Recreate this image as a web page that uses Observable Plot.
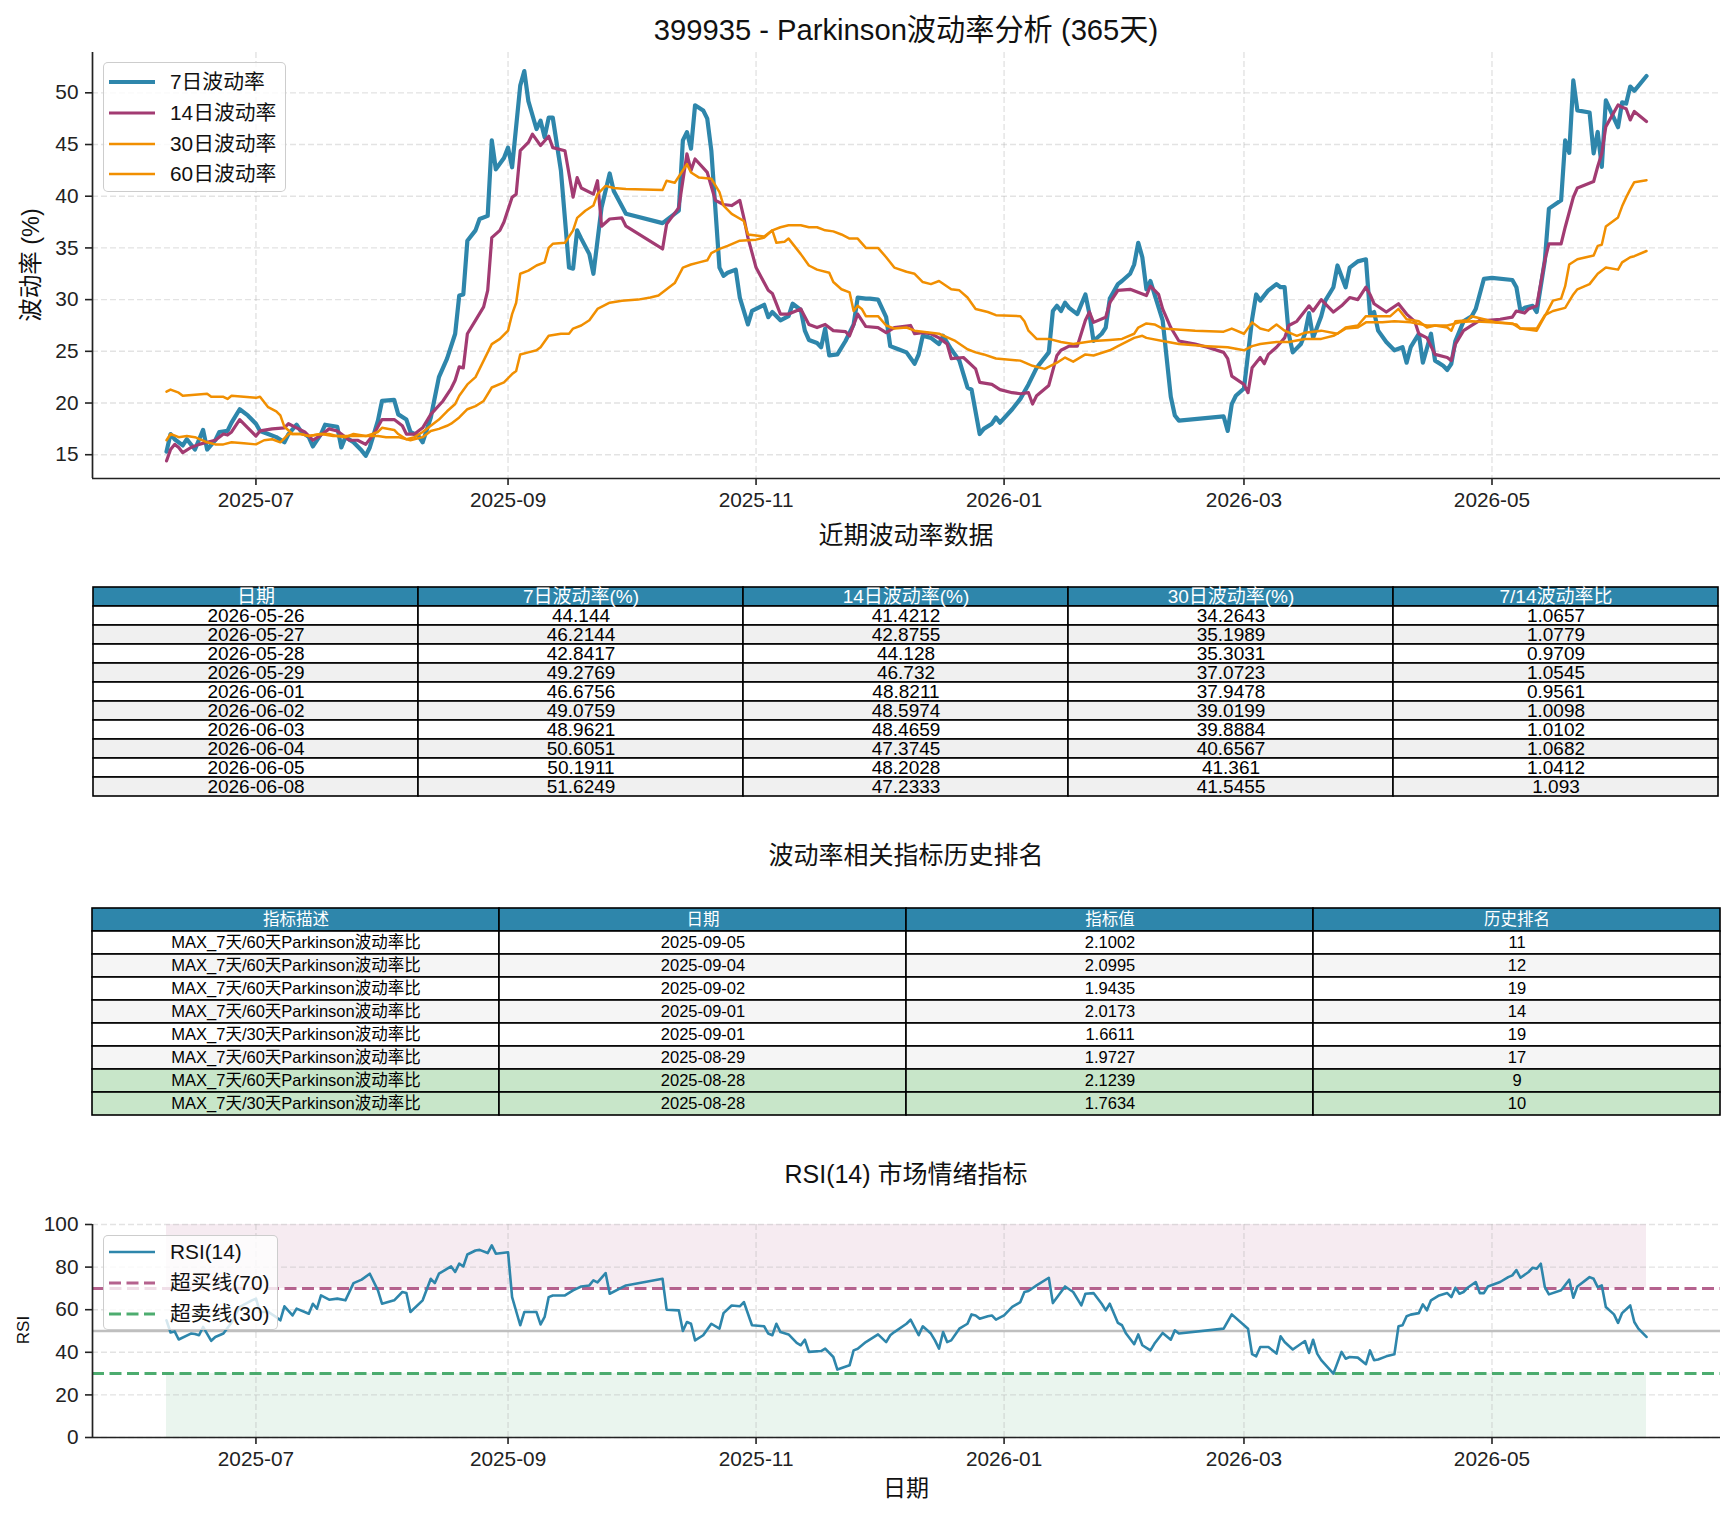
<!DOCTYPE html>
<html>
<head>
<meta charset="utf-8">
<script src="https://cdn.jsdelivr.net/npm/d3@7"></script>
<script src="https://cdn.jsdelivr.net/npm/@observablehq/plot@0.6"></script>
<style>
  body { margin: 0; background: #fff; }
  #root { position: relative; width: 1734px; height: 1516px; overflow: hidden; background: #fff;
          font-family: "Liberation Sans", "Noto Sans CJK SC", sans-serif; color: #111; }
</style>
</head>
<body>
<div id="root"></div>
<script>
// ---------------- DATA ----------------
const vol7 = [["2025-06-09",15.3],["2025-06-10",17.0],["2025-06-11",16.5],["2025-06-13",15.9],["2025-06-14",16.5],["2025-06-16",15.5],["2025-06-18",17.4],["2025-06-19",15.5],["2025-06-21",16.4],["2025-06-22",17.2],["2025-06-24",17.3],["2025-06-25",18.1],["2025-06-27",19.4],["2025-06-29",18.8],["2025-07-01",18.0],["2025-07-02",17.3],["2025-07-04",17.0],["2025-07-06",16.7],["2025-07-08",16.2],["2025-07-09",17.0],["2025-07-11",17.9],["2025-07-12",17.3],["2025-07-14",16.7],["2025-07-15",15.8],["2025-07-17",17.0],["2025-07-18",17.9],["2025-07-21",17.7],["2025-07-22",15.7],["2025-07-23",16.7],["2025-07-25",16.2],["2025-07-27",15.4],["2025-07-28",14.9],["2025-07-29",15.7],["2025-07-31",18.3],["2025-08-01",20.2],["2025-08-04",20.3],["2025-08-05",18.9],["2025-08-07",18.4],["2025-08-08",17.2],["2025-08-10",16.8],["2025-08-11",16.2],["2025-08-13",18.6],["2025-08-15",22.5],["2025-08-17",24.3],["2025-08-19",26.7],["2025-08-20",30.4],["2025-08-21",30.5],["2025-08-22",35.7],["2025-08-24",36.7],["2025-08-25",37.8],["2025-08-27",38.1],["2025-08-28",45.4],["2025-08-29",42.6],["2025-08-31",43.7],["2025-09-01",44.7],["2025-09-02",42.8],["2025-09-04",50.7],["2025-09-05",52.1],["2025-09-06",49.2],["2025-09-08",46.5],["2025-09-09",47.3],["2025-09-10",45.7],["2025-09-11",47.6],["2025-09-12",47.6],["2025-09-14",42.5],["2025-09-16",33.1],["2025-09-17",33.0],["2025-09-18",36.7],["2025-09-19",35.9],["2025-09-21",34.4],["2025-09-22",32.5],["2025-09-24",38.9],["2025-09-26",42.2],["2025-09-27",40.5],["2025-09-30",38.3],["2025-10-09",37.4],["2025-10-13",38.6],["2025-10-14",45.4],["2025-10-15",46.2],["2025-10-16",44.6],["2025-10-17",48.8],["2025-10-19",48.3],["2025-10-20",47.5],["2025-10-21",44.4],["2025-10-23",33.1],["2025-10-24",32.3],["2025-10-25",32.6],["2025-10-27",32.9],["2025-10-28",30.2],["2025-10-30",27.6],["2025-10-31",28.9],["2025-11-03",29.5],["2025-11-04",28.3],["2025-11-05",28.8],["2025-11-07",28.0],["2025-11-09",28.4],["2025-11-10",29.6],["2025-11-12",29.0],["2025-11-13",27.0],["2025-11-14",26.1],["2025-11-16",25.8],["2025-11-17",25.4],["2025-11-18",27.2],["2025-11-19",24.6],["2025-11-21",24.7],["2025-11-23",26.0],["2025-11-25",27.6],["2025-11-26",30.2],["2025-11-28",30.1],["2025-11-29",30.1],["2025-12-01",30.0],["2025-12-03",28.3],["2025-12-04",25.5],["2025-12-06",25.2],["2025-12-08",24.9],["2025-12-10",23.8],["2025-12-11",24.7],["2025-12-12",26.5],["2025-12-14",26.3],["2025-12-16",25.7],["2025-12-17",26.5],["2025-12-19",25.2],["2025-12-21",24.1],["2025-12-23",21.5],["2025-12-24",21.3],["2025-12-26",17.0],["2025-12-27",17.5],["2025-12-29",18.0],["2025-12-30",18.6],["2025-12-31",18.1],["2026-01-03",19.4],["2026-01-05",20.4],["2026-01-07",21.8],["2026-01-09",23.4],["2026-01-12",24.9],["2026-01-13",28.9],["2026-01-14",29.4],["2026-01-15",28.9],["2026-01-16",29.7],["2026-01-17",29.2],["2026-01-19",28.6],["2026-01-21",30.5],["2026-01-22",28.6],["2026-01-23",26.0],["2026-01-25",26.7],["2026-01-26",27.3],["2026-01-27",30.1],["2026-01-29",31.5],["2026-01-30",31.8],["2026-02-01",32.5],["2026-02-02",33.4],["2026-02-03",35.5],["2026-02-04",34.1],["2026-02-05",31.0],["2026-02-06",31.8],["2026-02-07",30.5],["2026-02-09",28.0],["2026-02-11",20.6],["2026-02-12",18.8],["2026-02-13",18.3],["2026-02-24",18.7],["2026-02-25",17.3],["2026-02-26",19.9],["2026-02-27",20.7],["2026-03-01",21.4],["2026-03-03",28.1],["2026-03-04",30.5],["2026-03-05",29.9],["2026-03-07",30.9],["2026-03-09",31.5],["2026-03-10",31.2],["2026-03-11",31.2],["2026-03-12",26.7],["2026-03-13",24.9],["2026-03-15",25.7],["2026-03-16",26.7],["2026-03-17",28.7],["2026-03-18",26.3],["2026-03-20",28.4],["2026-03-21",29.9],["2026-03-23",31.2],["2026-03-24",33.3],["2026-03-26",31.2],["2026-03-27",33.1],["2026-03-29",33.7],["2026-03-31",33.9],["2026-04-01",28.6],["2026-04-02",28.8],["2026-04-03",27.0],["2026-04-05",25.9],["2026-04-07",25.1],["2026-04-09",25.4],["2026-04-10",23.9],["2026-04-11",25.4],["2026-04-13",26.7],["2026-04-14",23.9],["2026-04-16",26.7],["2026-04-17",24.1],["2026-04-19",23.6],["2026-04-20",23.2],["2026-04-21",23.8],["2026-04-22",26.0],["2026-04-24",27.9],["2026-04-26",28.4],["2026-04-27",29.1],["2026-04-29",32.0],["2026-05-01",32.1],["2026-05-06",31.9],["2026-05-07",31.2],["2026-05-08",28.9],["2026-05-09",29.2],["2026-05-11",29.4],["2026-05-12",28.8],["2026-05-14",33.8],["2026-05-15",38.8],["2026-05-18",39.6],["2026-05-19",45.4],["2026-05-20",44.2],["2026-05-21",51.2],["2026-05-22",48.3],["2026-05-25",48.1]];

const vol14 = [["2025-06-09",14.4],["2025-06-10",15.5],["2025-06-11",16.0],["2025-06-12",15.7],["2025-06-13",15.2],["2025-06-15",15.7],["2025-06-17",16.0],["2025-06-19",16.2],["2025-06-21",16.4],["2025-06-23",17.0],["2025-06-24",16.9],["2025-06-25",17.2],["2025-06-27",18.4],["2025-06-29",17.6],["2025-07-01",16.8],["2025-07-02",17.3],["2025-07-05",17.5],["2025-07-08",17.6],["2025-07-09",18.0],["2025-07-11",17.6],["2025-07-13",17.2],["2025-07-15",16.4],["2025-07-17",16.9],["2025-07-19",17.5],["2025-07-21",17.3],["2025-07-22",17.0],["2025-07-24",16.4],["2025-07-26",16.4],["2025-07-28",16.0],["2025-07-30",17.0],["2025-08-01",18.4],["2025-08-04",18.4],["2025-08-06",17.8],["2025-08-07",17.0],["2025-08-09",17.0],["2025-08-11",17.6],["2025-08-13",18.9],["2025-08-16",20.2],["2025-08-18",21.4],["2025-08-19",22.2],["2025-08-20",23.5],["2025-08-21",23.4],["2025-08-22",26.7],["2025-08-24",28.0],["2025-08-26",29.3],["2025-08-27",30.9],["2025-08-28",36.0],["2025-08-30",36.7],["2025-08-31",37.5],["2025-09-02",39.9],["2025-09-03",40.2],["2025-09-04",44.4],["2025-09-06",45.2],["2025-09-07",46.0],["2025-09-09",44.9],["2025-09-11",45.8],["2025-09-12",44.7],["2025-09-15",44.4],["2025-09-17",39.9],["2025-09-18",41.8],["2025-09-19",40.8],["2025-09-22",40.2],["2025-09-23",41.5],["2025-09-24",37.1],["2025-09-26",37.8],["2025-09-29",37.9],["2025-09-30",37.1],["2025-10-09",34.9],["2025-10-10",37.3],["2025-10-13",38.9],["2025-10-15",44.1],["2025-10-16",42.5],["2025-10-17",43.6],["2025-10-20",42.3],["2025-10-22",39.6],["2025-10-24",39.2],["2025-10-26",39.1],["2025-10-28",39.6],["2025-10-29",37.9],["2025-10-30",36.0],["2025-11-01",33.1],["2025-11-04",30.9],["2025-11-05",30.6],["2025-11-07",28.6],["2025-11-09",28.6],["2025-11-12",29.1],["2025-11-14",27.6],["2025-11-16",27.3],["2025-11-18",27.6],["2025-11-20",27.0],["2025-11-23",26.9],["2025-11-24",26.5],["2025-11-26",28.6],["2025-11-28",27.4],["2025-12-01",27.3],["2025-12-03",26.8],["2025-12-05",27.3],["2025-12-09",27.5],["2025-12-10",26.7],["2025-12-12",26.8],["2025-12-14",26.7],["2025-12-16",26.3],["2025-12-18",25.7],["2025-12-19",24.3],["2025-12-22",24.4],["2025-12-25",23.3],["2025-12-26",22.0],["2025-12-29",21.8],["2025-12-31",21.3],["2026-01-03",21.0],["2026-01-05",20.9],["2026-01-07",21.0],["2026-01-08",19.9],["2026-01-09",20.7],["2026-01-12",21.7],["2026-01-14",24.6],["2026-01-15",25.1],["2026-01-17",25.5],["2026-01-19",25.5],["2026-01-21",28.0],["2026-01-22",28.8],["2026-01-23",27.8],["2026-01-26",28.3],["2026-01-27",29.7],["2026-01-29",30.9],["2026-02-01",31.0],["2026-02-05",30.4],["2026-02-06",31.3],["2026-02-08",30.5],["2026-02-09",29.1],["2026-02-11",27.3],["2026-02-13",26.0],["2026-02-17",25.7],["2026-02-20",25.4],["2026-02-24",24.9],["2026-02-25",24.3],["2026-02-26",22.6],["2026-03-01",21.8],["2026-03-02",21.0],["2026-03-03",23.4],["2026-03-05",24.4],["2026-03-06",23.8],["2026-03-07",24.7],["2026-03-09",25.4],["2026-03-11",26.3],["2026-03-12",27.5],["2026-03-14",27.9],["2026-03-17",29.4],["2026-03-18",28.9],["2026-03-20",30.0],["2026-03-23",28.8],["2026-03-25",29.4],["2026-03-27",30.2],["2026-03-29",30.0],["2026-03-31",31.2],["2026-04-01",30.5],["2026-04-02",29.6],["2026-04-05",28.8],["2026-04-08",29.6],["2026-04-10",28.6],["2026-04-12",27.9],["2026-04-13",26.7],["2026-04-15",26.3],["2026-04-17",24.7],["2026-04-20",24.4],["2026-04-21",24.1],["2026-04-22",25.7],["2026-04-24",27.0],["2026-04-26",27.5],["2026-04-28",28.0],["2026-04-30",28.0],["2026-05-03",28.1],["2026-05-06",28.3],["2026-05-07",28.9],["2026-05-09",28.7],["2026-05-10",29.1],["2026-05-12",29.4],["2026-05-14",33.8],["2026-05-15",35.4],["2026-05-18",35.4],["2026-05-19",37.0],["2026-05-21",39.9],["2026-05-22",40.8]];

const vol30 = [["2025-06-09",21.1],["2025-06-10",21.3],["2025-06-12",21.0],["2025-06-13",20.7],["2025-06-16",20.8],["2025-06-19",20.9],["2025-06-20",20.6],["2025-06-23",20.6],["2025-06-24",20.4],["2025-06-25",20.7],["2025-06-28",20.6],["2025-07-01",20.5],["2025-07-02",20.6],["2025-07-04",19.6],["2025-07-06",19.2],["2025-07-07",18.8],["2025-07-08",17.7],["2025-07-10",17.0],["2025-07-12",17.0],["2025-07-14",16.8],["2025-07-17",17.0],["2025-07-19",17.0],["2025-07-21",16.8],["2025-07-23",16.7],["2025-07-25",17.0],["2025-07-28",16.8],["2025-07-31",17.2],["2025-08-01",17.6],["2025-08-04",17.4],["2025-08-05",17.0],["2025-08-07",16.5],["2025-08-09",16.7],["2025-08-11",17.2],["2025-08-13",17.8],["2025-08-15",18.4],["2025-08-17",19.2],["2025-08-19",19.9],["2025-08-20",20.7],["2025-08-22",21.8],["2025-08-24",22.5],["2025-08-25",23.3],["2025-08-28",25.7],["2025-08-30",26.2],["2025-09-01",27.0],["2025-09-02",28.6],["2025-09-03",29.7],["2025-09-04",32.5],["2025-09-06",32.8],["2025-09-08",33.3],["2025-09-10",33.6],["2025-09-11",35.0],["2025-09-12",35.4],["2025-09-15",35.5],["2025-09-17",36.7],["2025-09-18",37.9],["2025-09-20",38.6],["2025-09-22",39.1],["2025-09-23",40.2],["2025-09-25",41.0],["2025-09-27",40.8],["2025-09-30",40.7],["2025-10-09",40.6],["2025-10-10",41.5],["2025-10-12",41.3],["2025-10-15",43.1],["2025-10-16",42.3],["2025-10-18",41.8],["2025-10-21",41.7],["2025-10-23",40.4],["2025-10-24",39.1],["2025-10-26",38.3],["2025-10-29",37.6],["2025-10-30",36.3],["2025-11-01",36.2],["2025-11-03",36.1],["2025-11-05",36.7],["2025-11-06",35.5],["2025-11-08",35.6],["2025-11-09",35.9],["2025-11-12",34.4],["2025-11-14",33.3],["2025-11-16",32.9],["2025-11-19",32.6],["2025-11-20",31.7],["2025-11-22",31.0],["2025-11-24",30.7],["2025-11-25",28.9],["2025-11-26",29.4],["2025-11-27",29.1],["2025-11-28",28.4],["2025-12-01",28.4],["2025-12-03",27.5],["2025-12-05",27.2],["2025-12-08",27.3],["2025-12-10",27.0],["2025-12-16",26.7],["2025-12-20",26.0],["2025-12-23",25.2],["2025-12-25",24.9],["2025-12-27",24.7],["2025-12-30",24.3],["2026-01-05",24.1],["2026-01-08",23.6],["2026-01-11",23.3],["2026-01-14",23.9],["2026-01-16",24.4],["2026-01-18",24.0],["2026-01-21",24.7],["2026-01-23",24.6],["2026-01-27",25.1],["2026-01-29",25.5],["2026-02-02",26.3],["2026-02-04",26.5],["2026-02-05",26.3],["2026-02-09",26.0],["2026-02-13",25.7],["2026-02-20",25.5],["2026-02-25",25.4],["2026-03-01",25.1],["2026-03-03",25.5],["2026-03-05",25.7],["2026-03-09",25.9],["2026-03-12",25.9],["2026-03-16",26.2],["2026-03-20",26.2],["2026-03-23",26.5],["2026-03-26",27.2],["2026-03-29",27.3],["2026-03-31",27.8],["2026-04-04",27.8],["2026-04-07",27.9],["2026-04-11",27.8],["2026-04-15",27.5],["2026-04-20",27.5],["2026-04-23",27.8],["2026-04-26",27.9],["2026-05-01",27.8],["2026-05-05",27.7],["2026-05-07",27.6],["2026-05-08",27.2],["2026-05-12",27.0],["2026-05-14",28.4],["2026-05-16",29.9],["2026-05-18",30.1],["2026-05-19",31.3],["2026-05-20",33.4],["2026-05-22",33.9]];

const vol60 = [["2025-06-09",16.4],["2025-06-10",17.0],["2025-06-12",16.7],["2025-06-14",16.8],["2025-06-16",16.7],["2025-06-19",16.2],["2025-06-21",16.0],["2025-06-23",16.0],["2025-06-25",16.2],["2025-06-28",16.1],["2025-07-01",16.0],["2025-07-03",16.4],["2025-07-05",16.5],["2025-07-07",16.2],["2025-07-09",17.0],["2025-07-12",17.0],["2025-07-14",16.8],["2025-07-17",17.0],["2025-07-20",16.8],["2025-07-23",16.8],["2025-07-27",16.8],["2025-07-31",16.8],["2025-08-02",16.7],["2025-08-05",16.7],["2025-08-08",16.4],["2025-08-11",16.7],["2025-08-13",17.3],["2025-08-15",17.5],["2025-08-17",17.8],["2025-08-18",18.0],["2025-08-20",18.6],["2025-08-22",19.4],["2025-08-24",19.7],["2025-08-26",20.2],["2025-08-28",21.5],["2025-08-31",22.0],["2025-09-02",22.8],["2025-09-03",23.1],["2025-09-04",24.7],["2025-09-06",24.9],["2025-09-08",25.1],["2025-09-09",25.4],["2025-09-11",26.5],["2025-09-14",26.7],["2025-09-16",26.7],["2025-09-17",27.2],["2025-09-19",27.5],["2025-09-21",28.0],["2025-09-23",29.1],["2025-09-26",29.7],["2025-09-29",29.9],["2025-10-03",30.0],["2025-10-06",30.2],["2025-10-08",30.4],["2025-10-10",31.0],["2025-10-12",31.6],["2025-10-14",33.1],["2025-10-16",33.4],["2025-10-18",33.6],["2025-10-20",33.8],["2025-10-21",34.5],["2025-10-23",34.9],["2025-10-25",35.2],["2025-10-28",35.7],["2025-11-01",35.8],["2025-11-03",36.0],["2025-11-05",36.7],["2025-11-07",37.0],["2025-11-09",37.2],["2025-11-12",37.2],["2025-11-14",37.0],["2025-11-16",37.0],["2025-11-18",36.7],["2025-11-20",36.6],["2025-11-22",36.3],["2025-11-24",35.9],["2025-11-26",35.9],["2025-11-28",35.0],["2025-12-01",35.0],["2025-12-03",34.1],["2025-12-05",33.1],["2025-12-08",32.7],["2025-12-10",32.5],["2025-12-12",31.7],["2025-12-14",31.5],["2025-12-16",31.8],["2025-12-19",31.0],["2025-12-21",30.9],["2025-12-23",30.2],["2025-12-25",29.1],["2025-12-28",28.8],["2025-12-30",28.5],["2026-01-05",28.4],["2026-01-06",27.9],["2026-01-07",27.0],["2026-01-09",26.2],["2026-01-12",26.2],["2026-01-15",25.9],["2026-01-18",25.7],["2026-01-23",26.0],["2026-01-27",26.1],["2026-01-30",26.2],["2026-02-02",26.7],["2026-02-03",27.3],["2026-02-05",27.7],["2026-02-07",27.6],["2026-02-09",27.2],["2026-02-17",27.0],["2026-02-24",26.9],["2026-02-26",27.2],["2026-03-01",26.7],["2026-03-03",27.8],["2026-03-05",27.2],["2026-03-07",27.0],["2026-03-09",27.6],["2026-03-11",27.0],["2026-03-14",26.5],["2026-03-16",26.8],["2026-03-20",27.0],["2026-03-24",26.7],["2026-03-26",27.3],["2026-03-29",27.5],["2026-03-31",28.4],["2026-04-06",28.4],["2026-04-08",29.1],["2026-04-10",28.1],["2026-04-13",27.9],["2026-04-15",27.3],["2026-04-17",27.5],["2026-04-20",27.3],["2026-04-21",27.0],["2026-04-22",27.9],["2026-04-25",28.0],["2026-04-26",28.4],["2026-04-29",28.1],["2026-05-02",27.8],["2026-05-06",27.7],["2026-05-08",27.2],["2026-05-12",27.2],["2026-05-14",28.5],["2026-05-16",28.9],["2026-05-19",29.2],["2026-05-21",30.5],["2026-05-22",31.0],["2026-05-25",31.5],["2026-05-27",32.5],["2026-05-29",33.1],["2026-06-01",32.9],["2026-06-02",33.6],["2026-06-04",34.1],["2026-06-05",34.2],["2026-06-08",34.7]];

const rsi14 = [["2025-06-09",55.0],["2025-06-10",49.3],["2025-06-11",49.8],["2025-06-12",46.0],["2025-06-15",48.8],["2025-06-16",48.6],["2025-06-17",48.0],["2025-06-18",51.9],["2025-06-20",45.4],["2025-06-21",47.2],["2025-06-23",48.8],["2025-06-25",54.0],["2025-06-27",61.3],["2025-06-30",64.4],["2025-07-01",65.2],["2025-07-02",58.9],["2025-07-04",59.0],["2025-07-06",56.5],["2025-07-07",55.0],["2025-07-08",61.6],["2025-07-10",57.3],["2025-07-11",60.5],["2025-07-14",58.1],["2025-07-15",62.8],["2025-07-16",60.5],["2025-07-17",66.7],["2025-07-19",64.7],["2025-07-21",65.2],["2025-07-23",64.4],["2025-07-25",72.5],["2025-07-27",74.1],["2025-07-29",76.9],["2025-07-31",69.1],["2025-08-01",62.8],["2025-08-04",64.4],["2025-08-06",68.3],["2025-08-07",67.8],["2025-08-08",58.9],["2025-08-11",64.4],["2025-08-13",74.5],["2025-08-14",72.5],["2025-08-15",76.9],["2025-08-18",80.3],["2025-08-19",77.7],["2025-08-20",81.6],["2025-08-21",80.3],["2025-08-22",85.9],["2025-08-24",87.8],["2025-08-25",88.1],["2025-08-27",86.6],["2025-08-28",90.2],["2025-08-29",86.3],["2025-09-01",87.0],["2025-09-02",65.9],["2025-09-04",52.7],["2025-09-05",58.9],["2025-09-08",58.9],["2025-09-09",53.1],["2025-09-10",56.6],["2025-09-11",65.9],["2025-09-12",66.7],["2025-09-15",66.7],["2025-09-17",69.1],["2025-09-19",70.9],["2025-09-21",71.4],["2025-09-22",73.8],["2025-09-23",72.8],["2025-09-25",77.2],["2025-09-26",67.5],["2025-09-30",71.4],["2025-10-09",74.5],["2025-10-10",60.0],["2025-10-13",59.7],["2025-10-14",50.0],["2025-10-15",54.2],["2025-10-16",53.4],["2025-10-17",45.6],["2025-10-19",48.0],["2025-10-21",53.4],["2025-10-23",51.1],["2025-10-24",58.4],["2025-10-26",62.0],["2025-10-28",61.6],["2025-10-29",63.6],["2025-10-31",52.7],["2025-11-03",52.2],["2025-11-04",48.8],["2025-11-05",48.0],["2025-11-06",53.4],["2025-11-07",49.5],["2025-11-09",48.4],["2025-11-11",44.4],["2025-11-12",43.3],["2025-11-13",45.9],["2025-11-14",40.2],["2025-11-17",40.6],["2025-11-18",41.7],["2025-11-20",37.8],["2025-11-21",31.9],["2025-11-24",33.9],["2025-11-25",40.9],["2025-11-26",41.7],["2025-11-28",44.8],["2025-12-01",48.4],["2025-12-03",44.8],["2025-12-04",48.0],["2025-12-05",49.5],["2025-12-08",53.4],["2025-12-09",55.3],["2025-12-11",48.0],["2025-12-12",52.2],["2025-12-14",48.8],["2025-12-15",45.6],["2025-12-16",41.7],["2025-12-17",49.5],["2025-12-18",44.8],["2025-12-19",45.6],["2025-12-21",51.1],["2025-12-23",53.4],["2025-12-24",57.8],["2025-12-25",57.3],["2025-12-26",55.8],["2025-12-28",56.9],["2025-12-29",57.3],["2025-12-30",55.3],["2026-01-01",57.3],["2026-01-03",61.3],["2026-01-05",63.6],["2026-01-06",68.3],["2026-01-07",68.8],["2026-01-09",71.4],["2026-01-12",75.0],["2026-01-13",63.1],["2026-01-15",68.3],["2026-01-16",70.9],["2026-01-18",68.3],["2026-01-20",62.0],["2026-01-21",67.5],["2026-01-23",67.8],["2026-01-25",62.8],["2026-01-26",59.7],["2026-01-27",62.8],["2026-01-29",53.8],["2026-01-30",52.7],["2026-01-31",48.8],["2026-02-02",43.8],["2026-02-03",48.4],["2026-02-04",43.3],["2026-02-06",40.9],["2026-02-07",44.1],["2026-02-09",49.1],["2026-02-11",45.9],["2026-02-12",50.3],["2026-02-13",48.8],["2026-02-24",51.1],["2026-02-26",57.8],["2026-03-02",51.1],["2026-03-03",39.1],["2026-03-04",38.1],["2026-03-05",42.5],["2026-03-07",42.5],["2026-03-09",39.4],["2026-03-10",47.5],["2026-03-11",44.8],["2026-03-13",41.3],["2026-03-16",45.3],["2026-03-17",39.7],["2026-03-18",45.9],["2026-03-19",39.4],["2026-03-20",36.3],["2026-03-23",30.0],["2026-03-25",40.2],["2026-03-26",37.0],["2026-03-27",37.8],["2026-03-29",37.5],["2026-03-31",34.4],["2026-04-01",40.9],["2026-04-02",36.3],["2026-04-03",36.6],["2026-04-05",38.1],["2026-04-07",39.1],["2026-04-08",52.2],["2026-04-09",52.7],["2026-04-10",56.9],["2026-04-11",57.7],["2026-04-13",58.4],["2026-04-14",62.5],["2026-04-15",59.7],["2026-04-16",64.4],["2026-04-18",66.7],["2026-04-20",67.8],["2026-04-21",65.9],["2026-04-22",70.3],["2026-04-23",67.5],["2026-04-24",68.3],["2026-04-25",70.3],["2026-04-27",73.0],["2026-04-28",67.8],["2026-04-29",67.8],["2026-04-30",70.9],["2026-05-03",73.0],["2026-05-05",75.3],["2026-05-06",76.1],["2026-05-07",78.6],["2026-05-08",75.0],["2026-05-10",77.7],["2026-05-11",79.7],["2026-05-12",79.2],["2026-05-13",81.6],["2026-05-14",70.6],["2026-05-15",67.2],["2026-05-18",69.1],["2026-05-20",74.1],["2026-05-21",65.6],["2026-05-22",70.9],["2026-05-25",75.3],["2026-05-26",74.5],["2026-05-27",70.6],["2026-05-28",71.4],["2026-05-29",61.3],["2026-05-31",57.8],["2026-06-01",53.8],["2026-06-02",58.4],["2026-06-04",62.0],["2026-06-05",54.2],["2026-06-06",51.1],["2026-06-08",47.2]];

// recent table (also the last ten points of the 7/14/30 day lines)
const recentDates = ["2026-05-26","2026-05-27","2026-05-28","2026-05-29","2026-06-01","2026-06-02","2026-06-03","2026-06-04","2026-06-05","2026-06-08"];
const recent7  = [44.144, 46.2144, 42.8417, 49.2769, 46.6756, 49.0759, 48.9621, 50.6051, 50.1911, 51.6249];
const recent14 = [41.4212, 42.8755, 44.128, 46.732, 48.8211, 48.5974, 48.4659, 47.3745, 48.2028, 47.2333];
const recent30 = [34.2643, 35.1989, 35.3031, 37.0723, 37.9478, 39.0199, 39.8884, 40.6567, 41.361, 41.5455];
const recentRatio = [1.0657, 1.0779, 0.9709, 1.0545, 0.9561, 1.0098, 1.0102, 1.0682, 1.0412, 1.093];
const recentCols = ["日期", "7日波动率(%)", "14日波动率(%)", "30日波动率(%)", "7/14波动率比"];

// ranking table
const rankCols = ["指标描述", "日期", "指标值", "历史排名"];
const rankDesc = ["MAX_7天/60天Parkinson波动率比","MAX_7天/60天Parkinson波动率比","MAX_7天/60天Parkinson波动率比","MAX_7天/60天Parkinson波动率比","MAX_7天/30天Parkinson波动率比","MAX_7天/60天Parkinson波动率比","MAX_7天/60天Parkinson波动率比","MAX_7天/30天Parkinson波动率比"];
const rankDate = ["2025-09-05","2025-09-04","2025-09-02","2025-09-01","2025-09-01","2025-08-29","2025-08-28","2025-08-28"];
const rankValue = [2.1002, 2.0995, 1.9435, 2.0173, 1.6611, 1.9727, 2.1239, 1.7634];
const rankPos = [11, 12, 19, 14, 19, 17, 9, 10];

const monthTicks = ["2025-07-01","2025-09-01","2025-11-01","2026-01-01","2026-03-01","2026-05-01"];
const volTicks = [15, 20, 25, 30, 35, 40, 45, 50];
const rsiTicks = [0, 20, 40, 60, 80, 100];
const rsiLevels = {overbought: 70, oversold: 30, mid: 50};

// ---------------- STYLE ----------------
const FONT = '"Liberation Sans", "Noto Sans CJK SC", sans-serif';
const C7 = "#2E86AB", C14 = "#A23B72", C30 = "#F18F01", C60 = "#F18F01";
const GREEN = "#3aa35f";
const TICK = "#222";

const parse = d3.utcParse("%Y-%m-%d");
const pts = arr => arr.map(([d, v]) => ({date: parse(d), v}));
const s7 = pts([...vol7, ...recentDates.map((d, i) => [d, recent7[i]])]);
const s14 = pts([...vol14, ...recentDates.map((d, i) => [d, recent14[i]])]);
const s30 = pts([...vol30, ...recentDates.map((d, i) => [d, recent30[i]])]);
const s60 = pts(vol60);
const sR = pts(rsi14);
const xTicks = monthTicks.map(parse);

const [t0, t1] = d3.extent(s7, d => d.date);
const pad = (t1 - t0) * 0.05;
const xDomain = [new Date(+t0 - pad), new Date(+t1 + pad)];
const yDomain = [12.7, 53.9];

const root = document.getElementById("root");
function place(node, top) {
  node.style.position = "absolute"; node.style.left = "0px"; node.style.top = top + "px";
  root.appendChild(node);
}
function addText(txt, cx, cy, size, rotate, color) {
  const el = document.createElement("div");
  el.textContent = txt;
  el.style.cssText = `position:absolute;left:${cx}px;top:${cy}px;font-size:${size}px;line-height:1;white-space:nowrap;color:${color || "#111"};transform:translate(-50%,-50%)${rotate ? ` rotate(${rotate}deg)` : ""};`;
  root.appendChild(el);
}
function legend(items, left, top, width, height, rows) {
  const box = document.createElement("div");
  box.style.cssText = `position:absolute;left:${left}px;top:${top}px;width:${width}px;height:${height}px;border:1.3px solid rgba(200,200,200,0.9);border-radius:5px;background:rgba(255,255,255,0.8);box-sizing:border-box;`;
  const ns = "http://www.w3.org/2000/svg";
  items.forEach((it, i) => {
    const y = rows[i];
    const s = document.createElementNS(ns, "svg");
    s.setAttribute("width", 54); s.setAttribute("height", 14);
    s.style.cssText = `position:absolute;left:3px;top:${y - 7}px;overflow:visible`;
    const ln = document.createElementNS(ns, "line");
    ln.setAttribute("x1", 2); ln.setAttribute("x2", 48); ln.setAttribute("y1", 7); ln.setAttribute("y2", 7);
    ln.setAttribute("stroke", it.color); ln.setAttribute("stroke-width", it.width);
    if (it.opacity) ln.setAttribute("stroke-opacity", it.opacity);
    if (it.dash) ln.setAttribute("stroke-dasharray", it.dash);
    s.appendChild(ln); box.appendChild(s);
    const t = document.createElement("div");
    t.textContent = it.label;
    t.style.cssText = `position:absolute;left:66px;top:${y}px;font-size:20.8px;line-height:1;white-space:nowrap;transform:translateY(-50%);color:#111;`;
    box.appendChild(t);
  });
  root.appendChild(box);
}

const gridStyle = {stroke: "#b0b0b0", strokeOpacity: 0.35, strokeDasharray: "6,3", strokeWidth: 1.4};
const axisStyle = {tickSize: 7, tickPadding: 7, fontSize: 20.8, strokeWidth: 1.6, label: null};

// ---------------- TOP CHART ----------------
const topChart = Plot.plot({
  width: 1734, height: 520,
  marginTop: 52, marginBottom: 42, marginLeft: 92, marginRight: 14,
  style: {fontFamily: FONT, fontSize: "20.8px", color: TICK, background: "transparent", overflow: "visible"},
  x: {type: "utc", domain: xDomain, label: null},
  y: {domain: yDomain, label: null},
  marks: [
    Plot.gridX(xTicks, gridStyle),
    Plot.gridY(volTicks, gridStyle),
    Plot.line(s7, {x: "date", y: "v", stroke: C7, strokeWidth: 4.2}),
    Plot.line(s14, {x: "date", y: "v", stroke: C14, strokeWidth: 3.2}),
    Plot.line(s30, {x: "date", y: "v", stroke: C30, strokeWidth: 2.5}),
    Plot.line(s60, {x: "date", y: "v", stroke: C60, strokeWidth: 2.5}),
    Plot.axisX(xTicks, {...axisStyle, tickFormat: d3.utcFormat("%Y-%m")}),
    Plot.axisY(volTicks, axisStyle),
    Plot.ruleY([yDomain[0]], {stroke: TICK, strokeWidth: 1.7}),
    Plot.ruleX([xDomain[0]], {stroke: TICK, strokeWidth: 1.7})
  ]
});
place(topChart, 0);

// ---------------- TABLE 1 ----------------
const HEAD = "#2E86AB";
const t1Rows = ["h", ...recentDates.map((d, i) => "r" + i)];
const t1Cells = [];
recentCols.forEach(c => t1Cells.push({col: c, row: "h", text: c, fill: HEAD, color: "#fff"}));
recentDates.forEach((d, i) => {
  const vals = [d, recent7[i], recent14[i], recent30[i], recentRatio[i]];
  const bg = i % 2 ? "#f0f0f0" : "#ffffff";
  recentCols.forEach((c, j) => t1Cells.push({col: c, row: "r" + i, text: String(vals[j]), fill: bg, color: "#000"}));
});
const table1 = Plot.plot({
  width: 1734, height: 218, marginTop: 2, marginBottom: 2, marginLeft: 91, marginRight: 14,
  style: {fontFamily: FONT, background: "transparent", overflow: "visible"},
  x: {type: "band", domain: recentCols, padding: 0, axis: null},
  y: {type: "band", domain: t1Rows, padding: 0, axis: null},
  color: {type: "identity"},
  marks: [
    Plot.cell(t1Cells, {x: "col", y: "row", fill: "fill", stroke: "#000", strokeWidth: 1.6}),
    Plot.text(t1Cells, {x: "col", y: "row", text: "text", fill: "color", fontSize: 19})
  ]
});
place(table1, 582);

// ---------------- TABLE 2 ----------------
const t2Rows = ["h", ...rankDate.map((d, i) => "r" + i)];
const t2Cells = [];
rankCols.forEach(c => t2Cells.push({col: c, row: "h", text: c, fill: HEAD, color: "#fff"}));
rankDate.forEach((d, i) => {
  const vals = [rankDesc[i], d, rankValue[i], rankPos[i]];
  const bg = rankPos[i] <= 10 ? "#c8e6c9" : (i % 2 ? "#f5f5f5" : "#ffffff");
  rankCols.forEach((c, j) => t2Cells.push({col: c, row: "r" + i, text: String(vals[j]), fill: bg, color: "#000"}));
});
const table2 = Plot.plot({
  width: 1734, height: 217, marginTop: 2, marginBottom: 2, marginLeft: 91, marginRight: 14,
  style: {fontFamily: FONT, background: "transparent", overflow: "visible"},
  x: {type: "band", domain: rankCols, padding: 0, axis: null},
  y: {type: "band", domain: t2Rows, padding: 0, axis: null},
  color: {type: "identity"},
  marks: [
    Plot.cell(t2Cells, {x: "col", y: "row", fill: "fill", stroke: "#000", strokeWidth: 1.6}),
    Plot.text(t2Cells, {x: "col", y: "row", text: "text", fill: "color", fontSize: 16.5})
  ]
});
place(table2, 903);

// ---------------- RSI CHART ----------------
const [r0, r1] = d3.extent(sR, d => d.date);
const zones = [
  {x1: r0, x2: r1, y1: rsiLevels.overbought, y2: 100, fill: "#A23B72"},
  {x1: r0, x2: r1, y1: 0, y2: rsiLevels.oversold, fill: "#2f9e55"}
];
const rsiChart = Plot.plot({
  width: 1734, height: 316,
  marginTop: 24, marginBottom: 79, marginLeft: 92, marginRight: 14,
  style: {fontFamily: FONT, fontSize: "20.8px", color: TICK, background: "transparent", overflow: "visible"},
  x: {type: "utc", domain: xDomain, label: null},
  y: {domain: [0, 100], label: null},
  color: {type: "identity"},
  marks: [
    Plot.rect(zones, {x1: "x1", x2: "x2", y1: "y1", y2: "y2", fill: "fill", fillOpacity: 0.1}),
    Plot.gridX(xTicks, gridStyle),
    Plot.gridY(rsiTicks, gridStyle),
    Plot.ruleY([rsiLevels.mid], {stroke: "#808080", strokeOpacity: 0.5, strokeWidth: 2.6}),
    Plot.ruleY([rsiLevels.overbought], {stroke: C14, strokeOpacity: 0.8, strokeWidth: 3, strokeDasharray: "12,5.5"}),
    Plot.ruleY([rsiLevels.oversold], {stroke: GREEN, strokeOpacity: 0.9, strokeWidth: 3, strokeDasharray: "12,5.5"}),
    Plot.line(sR, {x: "date", y: "v", stroke: C7, strokeWidth: 2.6}),
    Plot.axisX(xTicks, {...axisStyle, tickFormat: d3.utcFormat("%Y-%m")}),
    Plot.axisY(rsiTicks, axisStyle),
    Plot.ruleY([0], {stroke: TICK, strokeWidth: 1.7}),
    Plot.ruleX([xDomain[0]], {stroke: TICK, strokeWidth: 1.7})
  ]
});
place(rsiChart, 1200);

// ---------------- TEXTS & LEGENDS ----------------
addText("399935 - Parkinson波动率分析 (365天)", 906, 31, 29.2);
addText("波动率 (%)", 32, 265, 23.5, -90);
addText("近期波动率数据", 906, 535, 25);
addText("波动率相关指标历史排名", 906, 855, 25);
addText("RSI(14) 市场情绪指标", 906, 1174, 25);
addText("RSI", 23, 1330, 17, -90);
addText("日期", 906, 1488, 23);

legend([
  {label: "7日波动率", color: C7, width: 4.2},
  {label: "14日波动率", color: C14, width: 3.2},
  {label: "30日波动率", color: C30, width: 2.5},
  {label: "60日波动率", color: C60, width: 2.5}
], 103, 62, 183, 130, [19, 50, 81, 111]);

legend([
  {label: "RSI(14)", color: C7, width: 2.6},
  {label: "超买线(70)", color: C14, width: 3, opacity: 0.8, dash: "12,5.5"},
  {label: "超卖线(30)", color: GREEN, width: 3, opacity: 0.9, dash: "12,5.5"}
], 103, 1235, 175, 95, [16, 47, 78]);
</script>
</body>
</html>
